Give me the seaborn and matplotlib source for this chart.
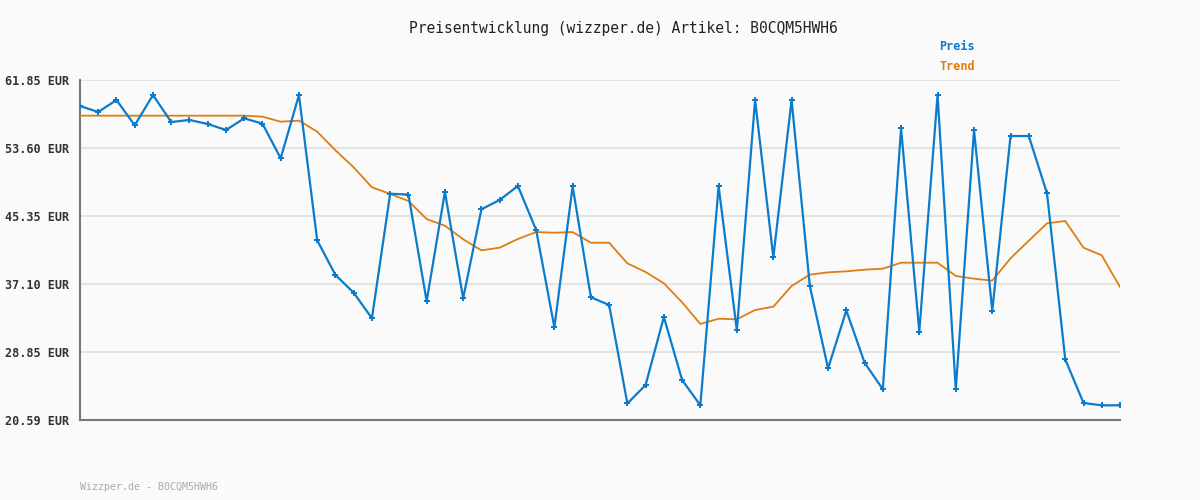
import numpy as np
import pandas as pd
import matplotlib
matplotlib.use("Agg")
import matplotlib.pyplot as plt
import seaborn as sns

# price history (58 samples)
preis = [58.69, 57.97, 59.42, 56.35, 60.03, 56.75, 57.00, 56.51, 55.78, 57.20,
         56.55, 52.35, 60.03, 42.40, 38.19, 36.04, 32.93, 48.05, 47.95, 35.00,
         48.26, 35.36, 46.16, 47.29, 48.99, 43.65, 31.84, 48.95, 35.48, 34.55,
         22.60, 24.84, 33.09, 25.45, 22.37, 48.95, 31.48, 59.42, 40.33, 59.42,
         36.85, 26.86, 33.88, 27.55, 24.32, 55.99, 31.31, 60.03, 24.32, 55.74,
         33.84, 55.05, 55.05, 48.10, 27.95, 22.65, 22.37, 22.37]
trend = [57.52, 57.52, 57.52, 57.52, 57.52, 57.52, 57.52, 57.52, 57.52, 57.52,
         57.40, 56.79, 56.92, 55.58, 53.32, 51.25, 48.83, 48.02, 47.17, 44.98,
         44.17, 42.52, 41.18, 41.50, 42.56, 43.40, 43.32, 43.40, 42.10, 42.10,
         39.60, 38.55, 37.18, 34.87, 32.24, 32.88, 32.81, 33.94, 34.34, 36.85,
         38.23, 38.51, 38.63, 38.83, 38.95, 39.68, 39.68, 39.68, 38.07, 37.74,
         37.50, 40.21, 42.35, 44.46, 44.74, 41.50, 40.57, 36.73]
y_ticks = [20.59, 28.85, 37.10, 45.35, 53.60, 61.85]
y_labels = ["20.59 EUR", "28.85 EUR", "37.10 EUR", "45.35 EUR", "53.60 EUR", "61.85 EUR"]

BLUE = "#0b7bcc"
ORANGE = "#e07d10"
BG = "#fafafa"

df = pd.DataFrame({"idx": np.arange(len(preis)), "Preis": preis, "Trend": trend})

sns.set_style("white")
plt.rcParams["font.family"] = ["DejaVu Sans Mono", "DejaVu Sans"]

fig = plt.figure(figsize=(12, 5), dpi=100, facecolor=BG)
ax = fig.add_axes([80 / 1200, 1 - 420 / 500, 1040 / 1200, 340 / 500])
ax.set_facecolor(BG)

sns.lineplot(data=df, x="idx", y="Trend", ax=ax, color=ORANGE, lw=1.3, zorder=3)
sns.lineplot(data=df, x="idx", y="Preis", ax=ax, color=BLUE, lw=1.6, zorder=4,
             marker="P", markersize=4, markeredgewidth=0, markerfacecolor=BLUE)

ax.set_xlim(0, len(preis) - 1)
ax.set_ylim(y_ticks[0], y_ticks[-1])
ax.set_yticks(y_ticks)
ax.set_yticklabels(y_labels, fontsize=8.5, fontweight="bold", color="#333333")
ax.set_xticks([])
ax.set_xlabel("")
ax.set_ylabel("")
ax.tick_params(axis="y", length=0, pad=8)
ax.yaxis.grid(True, color="#e4e4e4", lw=1.5, zorder=0)
ax.set_axisbelow(True)
for side in ["top", "right"]:
    ax.spines[side].set_visible(False)
for side in ["left", "bottom"]:
    ax.spines[side].set_color("#777777")
    ax.spines[side].set_linewidth(1.5)

fig.text(623 / 1200, 1 - 28 / 500, "Preisentwicklung (wizzper.de) Artikel: B0CQM5HWH6",
         ha="center", va="center", fontsize=10.5, color="#222222")
fig.text(939 / 1200, 1 - 47 / 500, "Preis", ha="left", va="center",
         fontsize=8.5, fontweight="bold", color=BLUE)
fig.text(939 / 1200, 1 - 67 / 500, "Trend", ha="left", va="center",
         fontsize=8.5, fontweight="bold", color=ORANGE)
fig.text(80 / 1200, 1 - 487 / 500, "Wizzper.de - B0CQM5HWH6", ha="left", va="center",
         fontsize=7.2, color="#aaaaaa")

fig.savefig("out.png", dpi=100, facecolor=BG)
